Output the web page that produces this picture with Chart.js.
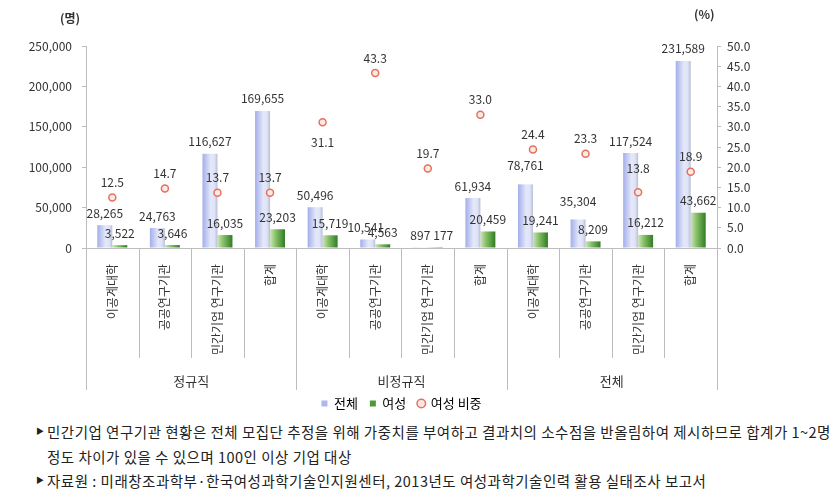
<!DOCTYPE html>
<html>
<head>
<meta charset="utf-8">
<script src="https://cdn.jsdelivr.net/npm/chart.js@4.4.0/dist/chart.umd.min.js"></script>
<style>
  html, body { margin: 0; padding: 0; background: #fff; }
  body { width: 837px; height: 503px; position: relative; overflow: hidden;
         font-family: "Noto Sans CJK KR", "Noto Sans", sans-serif; }
  #wrap { position: absolute; left: 0; top: 0; width: 837px; height: 420px; }
  .unit { position: absolute; font-size: 12px; font-weight: bold; color: #333; }
  .note { position: absolute; left: 47px; font-size: 14.5px; letter-spacing: 0.5px; color: #222; white-space: nowrap; }
  .note .b { position: absolute; left: -11px; top: 4px; font-size: 8px; letter-spacing: 0; }
</style>
</head>
<body>
<div id="wrap"><canvas id="chart"></canvas></div>
<div class="unit" style="left:60px; top:9px;">(명)</div>
<div class="unit" style="left:694px; top:5px;">(%)</div>
<div class="note" style="top:421px;"><span class="b">▶</span>민간기업 연구기관 현황은 전체 모집단 추정을 위해 가중치를 부여하고 결과치의 소수점을 반올림하여 제시하므로 합계가 1~2명</div>
<div class="note" style="top:446px;">정도 차이가 있을 수 있으며 100인 이상 기업 대상</div>
<div class="note" style="top:470px;"><span class="b">▶</span>자료원 : 미래창조과학부·한국여성과학기술인지원센터, 2013년도 여성과학기술인력 활용 실태조사 보고서</div>
<script>
// Chart data
const categories = ['이공계대학', '공공연구기관', '민간기업 연구기관', '합계',
                    '이공계대학', '공공연구기관', '민간기업 연구기관', '합계',
                    '이공계대학', '공공연구기관', '민간기업 연구기관', '합계'];
const groups = ['정규직', '비정규직', '전체'];
const totalValues = [28265, 24763, 116627, 169655, 50496, 10541, 897, 61934, 78761, 35304, 117524, 231589];
const femaleValues = [3522, 3646, 16035, 23203, 15719, 4563, 177, 20459, 19241, 8209, 16212, 43662];
const ratioValues = [12.5, 14.7, 13.7, 13.7, 31.1, 43.3, 19.7, 33.0, 24.4, 23.3, 13.8, 18.9];
const seriesNames = ['전체', '여성', '여성 비중'];

const FONT = '"Noto Sans CJK KR", "Noto Sans", sans-serif';
const BAR_SHARE = 0.57;

// horizontal gradient per bar, like the excel fill
function barGradient(stops, side) {
    return function(context) {
        const chart = context.chart;
        const xs = chart.scales.x;
        if (!chart.chartArea || !xs || context.dataIndex === undefined) return stops[1][1];
        const center = xs.getPixelForValue(context.dataIndex);
        const w = (xs.width / categories.length) * BAR_SHARE / 2;
        const left = side === 0 ? center - w : center;
        const g = chart.ctx.createLinearGradient(left, 0, left + w, 0);
        stops.forEach(s => g.addColorStop(s[0], s[1]));
        return g;
    };
}

const blueStops = [[0, '#a3aeea'], [0.55, '#e4e8fa'], [0.8, '#dfe3f6'], [1, '#b9bed6']];
const greenStops = [[0, '#cfe5bb'], [0.35, '#8cc36d'], [1, '#2f7d22']];

// separators, group names under the x axis
const groupAxisPlugin = {
    id: 'groupAxis',
    afterDraw(chart) {
        const { ctx, chartArea, scales: { x } } = chart;
        const step = x.getPixelForValue(1) - x.getPixelForValue(0);
        const per = categories.length / groups.length;
        ctx.save();
        ctx.strokeStyle = '#bdbdbd';
        ctx.lineWidth = 1;
        ctx.beginPath();
        for (let i = 0; i <= categories.length; i++) {
            const px = Math.round(x.getPixelForValue(i) - step / 2) + 0.5;
            const len = i % per === 0 ? 142 : 110;
            ctx.moveTo(px, chartArea.bottom);
            ctx.lineTo(px, chartArea.bottom + len);
        }
        ctx.stroke();
        ctx.fillStyle = '#333';
        ctx.font = '13px ' + FONT;
        ctx.textAlign = 'center';
        ctx.textBaseline = 'middle';
        groups.forEach((g, k) => {
            const cx = (x.getPixelForValue(k * per) + x.getPixelForValue(k * per + per - 1)) / 2;
            ctx.fillText(g, cx, chartArea.bottom + 133);
        });
        ctx.restore();
    }
};

// value labels over bars and points
const valueLabelPlugin = {
    id: 'valueLabels',
    afterDatasetsDraw(chart, args, opts) {
        const ctx = chart.ctx;
        ctx.save();
        ctx.font = '12px ' + FONT;
        ctx.fillStyle = '#333';
        ctx.textAlign = 'center';
        ctx.textBaseline = 'middle';
        chart.data.datasets.forEach((ds, di) => {
            const meta = chart.getDatasetMeta(di);
            meta.data.forEach((el, i) => {
                const v = ds.data[i];
                let text, dy, dx = 0;
                if (ds.type === 'line') {
                    text = v.toFixed(1);
                    dy = (opts.pointShift && opts.pointShift[i] !== undefined) ? opts.pointShift[i] : -15;
                } else {
                    text = v.toLocaleString('en-US');
                    const shifts = opts.barShift[di] || {};
                    dy = shifts[i] !== undefined ? shifts[i] : -12;
                    const sx = opts.barShiftX[di] || {};
                    if (sx[i] !== undefined) dx = sx[i];
                }
                ctx.fillText(text, el.x + dx, el.y + dy);
            });
        });
        ctx.restore();
    }
};

const ctx = document.getElementById('chart').getContext('2d');
const chart = new Chart(ctx, {
    type: 'bar',
    data: {
        labels: categories,
        datasets: [{
            label: seriesNames[0],
            data: totalValues,
            yAxisID: 'y',
            backgroundColor: barGradient(blueStops, 0),
            categoryPercentage: BAR_SHARE,
            barPercentage: 1,
            order: 2
        }, {
            label: seriesNames[1],
            data: femaleValues,
            yAxisID: 'y',
            backgroundColor: barGradient(greenStops, 1),
            categoryPercentage: BAR_SHARE,
            barPercentage: 1,
            order: 2
        }, {
            type: 'line',
            label: seriesNames[2],
            data: ratioValues,
            yAxisID: 'y1',
            showLine: false,
            pointRadius: 3.5,
            pointBorderWidth: 1.5,
            pointBorderColor: '#e4715c',
            pointBackgroundColor: '#fde9e5',
            order: 1
        }]
    },
    options: {
        responsive: true,
        maintainAspectRatio: false,
        animation: false,
        layout: { padding: { top: 46, left: 0, right: 0, bottom: 0 } },
        plugins: {
            tooltip: { enabled: false },
            legend: {
                position: 'bottom',
                fullSize: false,
                labels: {
                    font: { family: FONT, size: 13 },
                    color: '#333',
                    boxWidth: 6,
                    boxHeight: 6,
                    padding: 12,
                    generateLabels: function() {
                        return [
                            { text: seriesNames[0], fillStyle: '#aeb8ec', strokeStyle: '#aeb8ec', lineWidth: 0, pointStyle: 'rect' },
                            { text: seriesNames[1], fillStyle: '#4e9a3a', strokeStyle: '#4e9a3a', lineWidth: 0, pointStyle: 'rect' },
                            { text: seriesNames[2], fillStyle: '#fde9e5', strokeStyle: '#e4715c', lineWidth: 1.5, pointStyle: 'circle' }
                        ];
                    },
                    usePointStyle: true
                }
            },
            valueLabels: {
                barShift: { 0: { 8: -19, 9: -18 } },
                barShiftX: { 0: { 5: -2 }, 1: { 6: 8 } },
                pointShift: { 4: 20, 10: -24 }
            }
        },
        scales: {
            x: {
                grid: { display: false },
                border: { display: true, color: '#bdbdbd' },
                ticks: {
                    minRotation: 90,
                    maxRotation: 90,
                    autoSkip: false,
                    padding: 8,
                    color: '#333',
                    font: { family: FONT, size: 12 }
                },
                afterFit: function(scale) { scale.height = 137; }
            },
            y: {
                position: 'left',
                min: 0,
                max: 250000,
                ticks: {
                    stepSize: 50000,
                    color: '#333',
                    padding: 10,
                    font: { family: FONT, size: 12 },
                    callback: v => v.toLocaleString('en-US')
                },
                grid: { drawOnChartArea: false, drawTicks: true, tickLength: 4, color: '#bdbdbd' },
                border: { color: '#bdbdbd' },
                afterFit: function(scale) { scale.width = 86; }
            },
            y1: {
                position: 'right',
                min: 0,
                max: 50,
                ticks: {
                    stepSize: 5,
                    color: '#333',
                    padding: 6,
                    font: { family: FONT, size: 12 },
                    callback: v => v.toFixed(1)
                },
                grid: { drawOnChartArea: false, drawTicks: true, tickLength: 4, color: '#bdbdbd' },
                border: { color: '#bdbdbd' },
                afterFit: function(scale) { scale.width = 120; }
            }
        }
    },
    plugins: [groupAxisPlugin, valueLabelPlugin]
});
</script>
</body>
</html>
